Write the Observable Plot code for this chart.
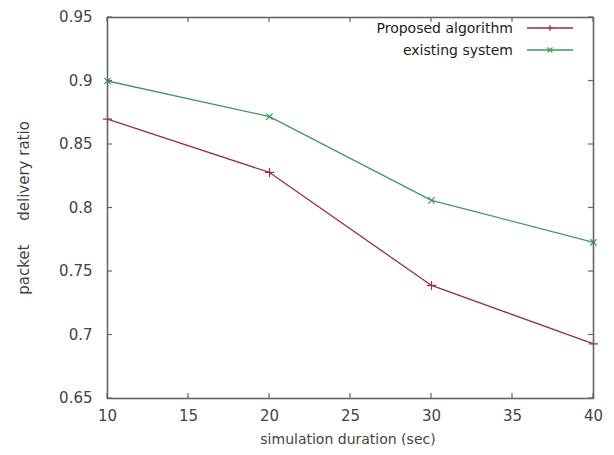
<!DOCTYPE html>
<html>
<head>
<meta charset="utf-8">
<script src="https://cdn.jsdelivr.net/npm/d3@7"></script>
<script src="https://cdn.jsdelivr.net/npm/@observablehq/plot@0.6"></script>
<style>
  html, body { margin: 0; padding: 0; background: #fff; }
  #chart { position: relative; width: 614px; height: 455px; }
  svg { font-family: "DejaVu Sans", sans-serif; }
</style>
</head>
<body>
<div id="chart"></div>
<script>
const durations = [10, 20, 30, 40];
const proposed = [0.870, 0.828, 0.739, 0.693];
const existing = [0.900, 0.872, 0.806, 0.773];
const seriesNames = ["Proposed algorithm", "existing system"];
const seriesColors = ["#9a2c4c", "#3f9a5c"];
const xTicks = [10, 15, 20, 25, 30, 35, 40];
const yTicks = [0.65, 0.7, 0.75, 0.8, 0.85, 0.9, 0.95];

const data = [];
durations.forEach((d, i) => {
  data.push({x: d, y: proposed[i], s: seriesNames[0]});
  data.push({x: d, y: existing[i], s: seriesNames[1]});
});

const axisColor = "#666";
const textColor = "#444";

const plot = Plot.plot({
  width: 614,
  height: 455,
  marginLeft: 107,
  marginRight: 21,
  marginTop: 17,
  marginBottom: 57,
  style: {fontFamily: "DejaVu Sans, sans-serif", fontSize: "14px", color: textColor, background: "#fff"},
  x: {domain: [10, 40]},
  y: {domain: [0.65, 0.95]},
  color: {domain: seriesNames, range: seriesColors},
  marks: [
    Plot.axisX({anchor: "bottom", ticks: xTicks, tickSize: 0, tickPadding: 12, fontSize: 15, label: null, tickFormat: d => String(d)}),
    Plot.axisY({anchor: "left", ticks: yTicks, tickSize: 0, tickPadding: 15, fontSize: 15, label: null, tickFormat: d => String(+d.toFixed(2))}),
    Plot.line(data, {x: "x", y: "y", z: "s", stroke: "s", strokeWidth: 1.3}),
    Plot.dot(data.filter(d => d.s === seriesNames[0]), {x: "x", y: "y", stroke: "s", symbol: "plus", r: 3, strokeWidth: 1.2}),
    Plot.dot(data.filter(d => d.s === seriesNames[1]), {x: "x", y: "y", stroke: "s", symbol: "times", r: 3, strokeWidth: 1.2}),
    Plot.frame({stroke: axisColor, strokeWidth: 1.6})
  ]
});

document.getElementById("chart").appendChild(plot);

const svg = d3.select(plot);
const sx = plot.scale("x"), sy = plot.scale("y");
const [x0, x1] = sx.range, [y0, y1] = sy.range; // y0 bottom, y1 top
const tl = 5;
const tg = svg.append("g").attr("stroke", axisColor).attr("stroke-width", 1.2);
xTicks.forEach(t => {
  const px = sx.apply(t);
  tg.append("line").attr("x1", px).attr("x2", px).attr("y1", y0).attr("y2", y0 - tl);
  tg.append("line").attr("x1", px).attr("x2", px).attr("y1", y1).attr("y2", y1 + tl);
});
yTicks.forEach(t => {
  const py = sy.apply(t);
  tg.append("line").attr("y1", py).attr("y2", py).attr("x1", x0).attr("x2", x0 + tl);
  tg.append("line").attr("y1", py).attr("y2", py).attr("x1", x1).attr("x2", x1 - tl);
});

// axis titles
svg.append("text")
  .attr("x", 348).attr("y", 444)
  .attr("text-anchor", "middle")
  .attr("font-size", 14)
  .attr("fill", textColor)
  .text("simulation duration (sec)");
svg.append("text")
  .attr("transform", "translate(29,208) rotate(-90)")
  .attr("text-anchor", "middle")
  .attr("font-size", 15)
  .attr("fill", textColor)
  .attr("xml:space", "preserve")
  .style("white-space", "pre")
  .text("packet     delivery ratio");

// legend
const lg = svg.append("g");
seriesNames.forEach((name, i) => {
  const yy = 28 + i * 22;
  lg.append("text")
    .attr("x", 513).attr("y", yy)
    .attr("dy", "0.35em")
    .attr("text-anchor", "end")
    .attr("font-size", 14)
    .attr("fill", "#222")
    .text(name);
  lg.append("line")
    .attr("x1", 527).attr("x2", 573).attr("y1", yy).attr("y2", yy)
    .attr("stroke", seriesColors[i]).attr("stroke-width", 1.3);
  const cx = 550;
  if (i === 0) {
    lg.append("path").attr("d", `M${cx-3},${yy}H${cx+3}M${cx},${yy-3}V${yy+3}`)
      .attr("stroke", seriesColors[i]).attr("stroke-width", 1.2);
  } else {
    lg.append("path").attr("d", `M${cx-2.5},${yy-2.5}L${cx+2.5},${yy+2.5}M${cx-2.5},${yy+2.5}L${cx+2.5},${yy-2.5}`)
      .attr("stroke", seriesColors[i]).attr("stroke-width", 1.2);
  }
});
</script>
</body>
</html>
